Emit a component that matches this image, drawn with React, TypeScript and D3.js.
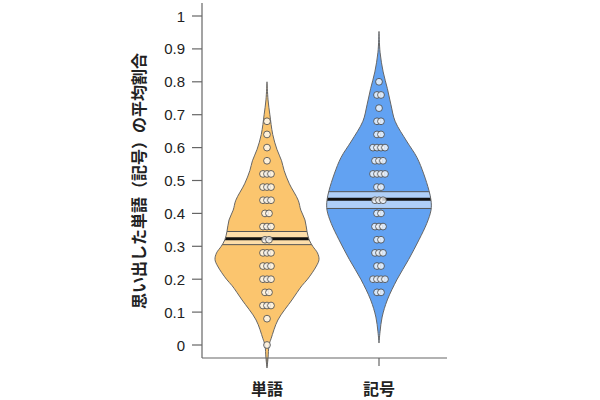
import React from 'react';
import * as d3 from 'd3';

const categories = ['単語', '記号'];
const yTickValues = [0, 0.1, 0.2, 0.3, 0.4, 0.5, 0.6, 0.7, 0.8, 0.9, 1];
const yTickLabels = ['0', '0.1', '0.2', '0.3', '0.4', '0.5', '0.6', '0.7', '0.8', '0.9', '1'];
const yTitle = '思い出した単語（記号）の平均割合';

// individual proportions (multiples of 1/25)
const wordScores = [
  0, 0.08, 0.12, 0.12, 0.12, 0.16, 0.16, 0.2, 0.2, 0.2, 0.24, 0.24, 0.24,
  0.28, 0.28, 0.28, 0.32, 0.32, 0.36, 0.36, 0.36, 0.4, 0.4, 0.44, 0.44, 0.44,
  0.48, 0.48, 0.48, 0.52, 0.52, 0.52, 0.56, 0.6, 0.64, 0.68,
];
const symbolScores = [
  0.16, 0.16, 0.2, 0.2, 0.2, 0.2, 0.24, 0.24, 0.28, 0.28, 0.28, 0.32, 0.32,
  0.36, 0.36, 0.36, 0.4, 0.4, 0.44, 0.44, 0.44, 0.48, 0.48, 0.52, 0.52, 0.52,
  0.52, 0.56, 0.56, 0.56, 0.6, 0.6, 0.6, 0.6, 0.64, 0.64, 0.68, 0.68, 0.72,
  0.76, 0.76, 0.8,
];

// kernel density outlines (value, relative density)
const wordDensityAt = [-0.07, -0.04, 0, 0.02, 0.076, 0.137, 0.18, 0.2, 0.24, 0.26, 0.28, 0.3, 0.32, 0.345, 0.38, 0.41, 0.44, 0.49, 0.53, 0.56, 0.595, 0.64, 0.7, 0.745, 0.8];
const wordDensity = [0, 0.02, 0.04, 0.08, 0.21, 0.48, 0.67, 0.78, 0.95, 1.0, 0.97, 0.88, 0.81, 0.77, 0.73, 0.65, 0.6, 0.43, 0.33, 0.28, 0.19, 0.11, 0.055, 0.02, 0];
const symbolDensityAt = [0.006, 0.04, 0.085, 0.137, 0.2, 0.26, 0.32, 0.37, 0.41, 0.44, 0.47, 0.52, 0.57, 0.62, 0.68, 0.73, 0.78, 0.83, 0.89, 0.953];
const symbolDensity = [0, 0.02, 0.06, 0.16, 0.35, 0.57, 0.77, 0.92, 1.0, 1.0, 0.96, 0.86, 0.73, 0.53, 0.31, 0.23, 0.16, 0.08, 0.02, 0];

const means = [0.323, 0.443];
const ciLow = [0.305, 0.415];
const ciHigh = [0.345, 0.466];

const fills = ['#FBC56E', '#62A2F2'];
const bandFills = ['#FDDEAA', '#AFCFF8'];

const groups = [
  { scores: wordScores, at: wordDensityAt, dens: wordDensity },
  { scores: symbolScores, at: symbolDensityAt, dens: symbolDensity },
];

export default function App() {
  const y = d3.scaleLinear().domain([0, 1]).range([345, 16]);
  const x = d3.scalePoint<string>().domain(categories).range([267, 379]);
  const w = d3.scaleLinear().domain([0, 1]).range([0, 52]);
  const axisX = 202;
  const axisBottom = 358;
  const axisTop = 3;
  const axisRight = 447;
  const jp = '"Noto Sans CJK JP", sans-serif';
  const num = '"Liberation Sans", Arial, sans-serif';

  return (
    <svg width={600} height={400} style={{ position: 'absolute', left: 0, top: 0, background: '#fff' }}>
      <defs>
        {groups.map((g, gi) => {
          const cx = x(categories[gi])!;
          const pts = g.at.map((v, i) => [v, g.dens[i]] as [number, number]);
          const area = d3
            .area<[number, number]>()
            .y((d) => y(d[0]))
            .x0((d) => cx - w(d[1]))
            .x1((d) => cx + w(d[1]))
            .curve(d3.curveCatmullRom);
          return (
            <clipPath id={`clip${gi}`} key={gi}>
              <path d={area(pts) || ''} />
            </clipPath>
          );
        })}
      </defs>

      {groups.map((g, gi) => {
        const cat = categories[gi];
        const cx = x(cat)!;
        const pts = g.at.map((v, i) => [v, g.dens[i]] as [number, number]);
        const area = d3
          .area<[number, number]>()
          .y((d) => y(d[0]))
          .x0((d) => cx - w(d[1]))
          .x1((d) => cx + w(d[1]))
          .curve(d3.curveCatmullRom);
        const grouped = d3.groups(g.scores, (s) => s);
        return (
          <g key={cat}>
            <path d={area(pts) || ''} fill={fills[gi]} stroke="none" />
            <g clipPath={`url(#clip${gi})`}>
              <rect x={cx - 80} width={160} y={y(ciHigh[gi])} height={y(ciLow[gi]) - y(ciHigh[gi])} fill={bandFills[gi]} />
              <line x1={cx - 80} x2={cx + 80} y1={y(ciHigh[gi])} y2={y(ciHigh[gi])} stroke="#555" strokeWidth={1} />
              <line x1={cx - 80} x2={cx + 80} y1={y(ciLow[gi])} y2={y(ciLow[gi])} stroke="#555" strokeWidth={1} />
              <line x1={cx - 80} x2={cx + 80} y1={y(means[gi])} y2={y(means[gi])} stroke="#111" strokeWidth={3} />
            </g>
            <path d={area(pts) || ''} fill="none" stroke="#666" strokeWidth={1} />
            {grouped.map(([v, arr]) =>
              arr.map((_, i) => (
                <circle
                  key={`${v}-${i}`}
                  cx={cx + (i - (arr.length - 1) / 2) * 4}
                  cy={y(v)}
                  r={3.4}
                  fill="#fff"
                  fillOpacity={0.75}
                  stroke="#444"
                  strokeWidth={0.8}
                />
              ))
            )}
          </g>
        );
      })}

      {/* axes */}
      <line x1={axisX} x2={axisX} y1={axisTop} y2={axisBottom} stroke="#666" strokeWidth={1.2} />
      <line x1={axisX} x2={axisRight} y1={axisBottom} y2={axisBottom} stroke="#666" strokeWidth={1.2} />
      {yTickValues.map((v, i) => (
        <g key={v}>
          <line x1={axisX - 10} x2={axisX} y1={y(v)} y2={y(v)} stroke="#666" strokeWidth={1.2} />
          <text x={axisX - 17} y={y(v)} textAnchor="end" dominantBaseline="central" fontSize={15} fontFamily={num} fill="#222">
            {yTickLabels[i]}
          </text>
        </g>
      ))}
      {categories.map((c) => (
        <g key={c}>
          <line x1={x(c)!} x2={x(c)!} y1={axisBottom} y2={axisBottom + 8} stroke="#666" strokeWidth={1.2} />
          <text x={x(c)!} y={388} textAnchor="middle" dominantBaseline="central" fontSize={16} fontWeight="bold" fontFamily={jp} fill="#222">
            {c}
          </text>
        </g>
      ))}
      <text
        transform="translate(138,181) rotate(-90)"
        textAnchor="middle"
        dominantBaseline="central"
        fontSize={16}
        fontWeight="bold"
        fontFamily={jp}
        fill="#222"
      >
        {yTitle}
      </text>
    </svg>
  );
}
